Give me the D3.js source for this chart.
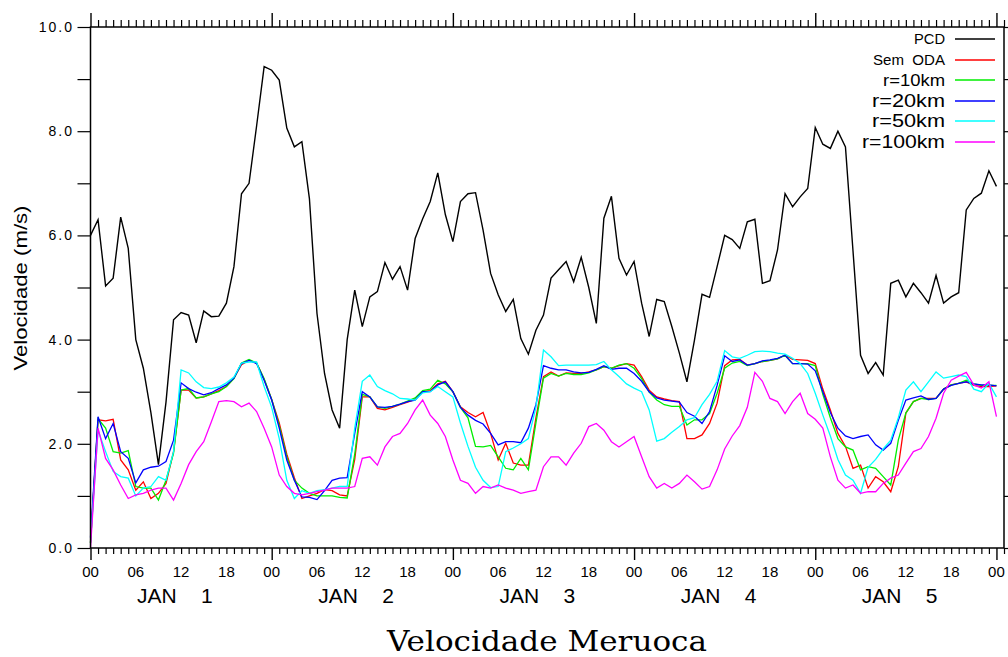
<!DOCTYPE html>
<html>
<head>
<meta charset="utf-8">
<script src="https://cdn.jsdelivr.net/npm/d3@7"></script>
<style>
  html, body { margin: 0; padding: 0; background: #fff; }
  svg { display: block; }
  text { font-family: "Liberation Sans", Arial, sans-serif; fill: #000; }
</style>
</head>
<body>
<svg id="chart" width="1008" height="657"></svg>
<script>
// Hourly wind speed (m/s), 00Z Jan 1 to 00Z Jan 6
const pcd = [6.0,6.3,5.03,5.18,6.35,5.75,4.0,3.45,2.6,1.6,2.8,4.38,4.52,4.47,3.94,4.55,4.44,4.45,4.7,5.4,
  6.8,7.0,8.1,9.24,9.17,8.98,8.06,7.7,7.8,6.7,4.5,3.35,2.65,2.3,4.0,4.95,4.25,4.82,4.92,5.48,
  5.16,5.4,4.95,5.94,6.32,6.65,7.2,6.4,5.88,6.65,6.8,6.82,6.1,5.27,4.86,4.54,4.77,4.02,3.72,4.18,
  4.47,5.18,5.34,5.5,5.11,5.58,5.0,4.31,6.33,6.75,5.56,5.24,5.5,4.7,4.06,4.77,4.73,4.25,3.74,3.19,
  3.99,4.87,4.81,5.4,6.0,5.92,5.75,6.26,6.31,5.08,5.13,5.72,6.8,6.55,6.74,6.9,8.07,7.75,7.67,8.0,
  7.7,5.7,3.7,3.35,3.56,3.32,5.08,5.14,4.82,5.08,4.9,4.7,5.23,4.7,4.82,4.9,6.49,6.71,6.81,7.24,6.94];
const semODA = [0.1,2.46,2.44,2.47,1.69,1.5,1.11,1.27,0.95,1.05,1.24,1.85,3.03,3.03,2.88,2.9,2.96,3.02,3.1,3.26,
  3.52,3.6,3.55,3.24,2.85,2.4,1.8,1.35,0.95,1.0,1.05,1.12,1.1,1.02,1.0,1.7,2.9,2.9,2.68,2.65,
  2.7,2.75,2.8,2.85,3.0,3.02,3.15,3.2,3.0,2.71,2.6,2.52,2.6,2.2,1.69,2.01,1.63,1.59,1.59,2.5,
  3.29,3.38,3.3,3.36,3.35,3.35,3.38,3.42,3.48,3.45,3.5,3.54,3.51,3.29,3.03,2.9,2.86,2.83,2.81,2.1,
  2.1,2.17,2.39,2.78,3.5,3.61,3.62,3.51,3.54,3.58,3.6,3.63,3.7,3.62,3.61,3.6,3.54,3.05,2.65,2.2,
  1.95,1.53,1.59,1.15,1.37,1.27,1.08,1.56,2.59,2.81,2.87,2.87,2.87,3.05,3.13,3.16,3.19,3.12,3.1,3.1,3.11];
const r10km = [0.1,2.48,2.3,1.85,1.82,1.87,1.18,1.15,1.15,0.92,1.3,1.82,3.03,3.06,2.88,2.9,2.96,3.0,3.1,3.25,
  3.55,3.62,3.55,3.25,2.85,2.35,1.75,1.3,1.15,1.05,1.0,1.0,1.0,0.97,0.96,1.8,2.95,2.9,2.71,2.68,
  2.72,2.76,2.82,2.88,3.02,3.05,3.22,3.15,3.0,2.7,2.5,1.95,1.94,1.97,1.75,1.53,1.5,1.72,1.5,2.4,
  3.26,3.35,3.3,3.35,3.33,3.33,3.36,3.42,3.48,3.45,3.51,3.54,3.45,3.25,2.99,2.84,2.75,2.72,2.72,2.36,
  2.46,2.46,2.58,2.97,3.45,3.55,3.58,3.5,3.54,3.58,3.6,3.63,3.7,3.54,3.54,3.54,3.5,2.95,2.5,2.1,
  1.94,1.88,1.5,1.56,1.53,1.37,1.21,2.07,2.59,2.81,2.87,2.85,2.87,3.05,3.13,3.16,3.22,3.15,3.12,3.12,3.12];
const r20km = [0.2,2.52,2.1,2.39,1.85,1.72,1.25,1.5,1.55,1.57,1.66,2.07,3.17,3.06,2.99,2.94,2.98,3.06,3.13,3.26,
  3.54,3.6,3.54,3.22,2.84,2.3,1.69,1.3,0.98,0.97,0.93,1.1,1.3,1.34,1.35,2.2,3.0,2.9,2.71,2.7,
  2.72,2.76,2.81,2.84,3.0,3.0,3.13,3.19,3.0,2.7,2.55,2.45,2.38,2.2,1.98,2.04,2.04,2.02,2.3,2.75,
  3.5,3.45,3.42,3.42,3.38,3.36,3.37,3.43,3.5,3.43,3.45,3.45,3.35,3.2,3.0,2.88,2.84,2.82,2.8,2.6,
  2.53,2.39,2.62,3.12,3.69,3.58,3.61,3.51,3.54,3.59,3.61,3.64,3.7,3.54,3.54,3.53,3.4,3.0,2.6,2.3,
  2.15,2.1,2.14,2.17,1.98,1.88,2.01,2.45,2.84,2.88,2.92,2.85,2.87,3.05,3.12,3.16,3.19,3.15,3.13,3.13,3.11];
const r50km = [0.1,2.26,1.85,1.47,1.37,1.34,1.0,1.15,1.18,1.37,1.3,1.85,3.42,3.36,3.19,3.08,3.06,3.09,3.17,3.28,
  3.55,3.57,3.57,3.1,2.7,2.1,1.3,0.95,1.1,1.05,1.1,1.12,1.15,1.18,1.18,2.3,3.2,3.32,3.1,3.02,
  2.96,2.87,2.86,2.84,2.98,3.0,3.1,3.0,2.9,2.4,1.95,1.55,1.3,1.16,1.18,1.85,1.92,2.0,2.1,2.7,
  3.8,3.67,3.5,3.51,3.51,3.51,3.51,3.52,3.58,3.42,3.29,3.15,3.07,3.0,2.65,2.05,2.1,2.22,2.33,2.46,
  2.5,2.75,2.95,3.2,3.79,3.67,3.64,3.7,3.77,3.78,3.77,3.74,3.72,3.64,3.54,3.35,2.97,2.55,2.15,1.7,
  1.4,1.3,1.05,1.55,1.7,1.9,2.07,2.5,3.03,3.19,3.0,3.19,3.38,3.26,3.29,3.32,3.29,3.05,3.0,3.16,2.9];
const r100km = [0.0,2.3,1.72,1.5,1.21,0.95,1.02,1.05,1.11,1.15,1.15,0.92,1.24,1.6,1.85,2.04,2.42,2.81,2.83,2.81,
  2.71,2.78,2.62,2.3,1.94,1.4,1.18,1.05,1.02,1.05,1.08,1.11,1.15,1.15,1.15,1.18,1.72,1.75,1.59,1.94,
  2.14,2.2,2.39,2.65,2.84,2.55,2.39,2.14,1.69,1.3,1.24,1.05,1.18,1.15,1.21,1.15,1.11,1.05,1.08,1.11,
  1.56,1.75,1.75,1.59,1.82,2.01,2.33,2.39,2.26,2.04,1.94,2.04,2.14,1.75,1.37,1.15,1.24,1.15,1.24,1.4,
  1.27,1.13,1.18,1.5,1.9,2.15,2.35,2.7,3.37,3.2,2.87,2.81,2.58,2.81,2.97,2.58,2.47,2.3,1.75,1.3,
  1.15,1.21,1.05,1.08,1.08,1.24,1.34,1.4,1.63,1.85,1.91,2.14,2.49,2.97,3.22,3.3,3.37,3.13,3.07,3.19,2.52];

const seriesNames = ["PCD", "Sem  ODA", "r=10km", "r=20km", "r=50km", "r=100km"];
const seriesColors = ["#000000", "#ff0000", "#00ee00", "#0000ff", "#00ffff", "#ff00ff"];
const seriesValues = [pcd, semODA, r10km, r20km, r50km, r100km];

const yTicks = [0, 1, 2, 3, 4, 5, 6, 7, 8, 9, 10];
const yTickLabels = ["0.0", "", "2.0", "", "4.0", "", "6.0", "", "8.0", "", "10.0"];
const hourLabels = ["00", "06", "12", "18"];
const dayLabels = ["JAN", "JAN", "JAN", "JAN", "JAN"];
const dayNumbers = ["1", "2", "3", "4", "5"];
const titleText = "Velocidade Meruoca";
const yTitle = "Velocidade (m/s)";

const svg = d3.select("#chart");
const plotLeft = 90.5, plotRight = 1004, plotTop = 27, plotBottom = 548;

const x = d3.scaleLinear().domain([0, 121]).range([plotLeft, plotRight]);
const y = d3.scaleLinear().domain([0, 10]).range([plotBottom, plotTop]);

const allHours = d3.range(0, 122);
const sixHours = d3.range(0, 121, 6);
const dayStarts = d3.range(0, 121, 24);

function styleTicks(g, w) {
  g.select(".domain").remove();
  g.selectAll("line").attr("stroke", "#000").attr("stroke-width", w);
}

// Bottom axis: hourly minor ticks, long ticks at 00Z
svg.append("g").attr("transform", `translate(0,${plotBottom})`)
  .call(d3.axisBottom(x).tickValues(allHours.filter(h => h % 24 !== 0)).tickSize(6).tickFormat(""))
  .call(g => styleTicks(g, 1.2));
svg.append("g").attr("transform", `translate(0,${plotBottom})`)
  .call(d3.axisBottom(x).tickValues(dayStarts).tickSize(12).tickFormat(""))
  .call(g => styleTicks(g, 1.4));

// Top axis
svg.append("g").attr("transform", `translate(0,${plotTop})`)
  .call(d3.axisTop(x).tickValues(allHours.filter(h => h % 24 !== 0)).tickSize(7).tickFormat(""))
  .call(g => styleTicks(g, 1.2));
svg.append("g").attr("transform", `translate(0,${plotTop})`)
  .call(d3.axisTop(x).tickValues(dayStarts).tickSize(14).tickFormat(""))
  .call(g => styleTicks(g, 1.4));

// Left axis
svg.append("g").attr("transform", `translate(${plotLeft},0)`)
  .call(d3.axisLeft(y).tickValues(yTicks).tickSize(13).tickFormat(""))
  .call(g => styleTicks(g, 1.2));
// Right axis
svg.append("g").attr("transform", `translate(${plotRight},0)`)
  .call(d3.axisRight(y).tickValues(yTicks).tickSize(6).tickFormat(""))
  .call(g => styleTicks(g, 1.2));

// Y tick labels
svg.append("g").selectAll("text").data(yTicks).join("text")
  .attr("x", 74).attr("y", d => y(d) + 5)
  .attr("text-anchor", "end")
  .attr("font-size", 14).attr("letter-spacing", 2)
  .text((d, i) => yTickLabels[i]);

// Hour labels
svg.append("g").selectAll("text").data(sixHours).join("text")
  .attr("x", d => x(d)).attr("y", 577)
  .attr("text-anchor", "middle")
  .attr("font-size", 15)
  .text(d => hourLabels[(d / 6) % 4]);

// Day labels
const dayG = svg.append("g");
dayG.selectAll("text.mon").data(dayLabels).join("text").attr("class", "mon")
  .attr("x", (d, i) => x(12 + 24 * i) - 44).attr("y", 603)
  .attr("font-size", 21)
  .text(d => d);
dayG.selectAll("text.day").data(dayNumbers).join("text").attr("class", "day")
  .attr("x", (d, i) => x(12 + 24 * i) + 20).attr("y", 603)
  .attr("font-size", 21)
  .text(d => d);

// Series lines
const line = d3.line().x((d, i) => x(i)).y(d => y(d));
const plot = svg.append("g");
seriesValues.forEach((vals, k) => {
  plot.append("path")
    .datum(vals)
    .attr("fill", "none")
    .attr("stroke", seriesColors[k])
    .attr("stroke-width", k === 0 ? 1.4 : 1.3)
    .attr("stroke-linejoin", "miter")
    .attr("d", line);
});

// Frame
svg.append("rect")
  .attr("x", plotLeft).attr("y", plotTop)
  .attr("width", plotRight - plotLeft).attr("height", plotBottom - plotTop)
  .attr("fill", "none").attr("stroke", "#000").attr("stroke-width", 1.5);

// Legend
const legendRows = [39, 60, 80, 101, 121, 142];
const legendSizes = [14, 14, 16, 18, 18, 18];
const legendWidths = [31, 72, 62, 73, 73, 83];
const leg = svg.append("g");
seriesNames.forEach((name, k) => {
  leg.append("text")
    .attr("x", 945 - legendWidths[k]).attr("y", legendRows[k])
    .attr("dominant-baseline", "central")
    .attr("font-size", legendSizes[k])
    .attr("textLength", legendWidths[k])
    .attr("lengthAdjust", "spacingAndGlyphs")
    .style("white-space", "pre")
    .text(name);
  leg.append("line")
    .attr("x1", 955).attr("x2", 995)
    .attr("y1", legendRows[k]).attr("y2", legendRows[k])
    .attr("stroke", seriesColors[k]).attr("stroke-width", 1.5);
});

// Y axis title
svg.append("text")
  .attr("transform", "translate(27,288) rotate(-90)")
  .attr("text-anchor", "middle")
  .attr("font-size", 18)
  .attr("textLength", 165)
  .attr("lengthAdjust", "spacingAndGlyphs")
  .text(yTitle);

// Chart title
svg.append("text")
  .attr("x", 387).attr("y", 651)
  .style("font-family", "'DejaVu Serif', 'Liberation Serif', serif")
  .attr("font-size", 28)
  .attr("textLength", 320)
  .attr("lengthAdjust", "spacingAndGlyphs")
  .text(titleText);
</script>
</body>
</html>
